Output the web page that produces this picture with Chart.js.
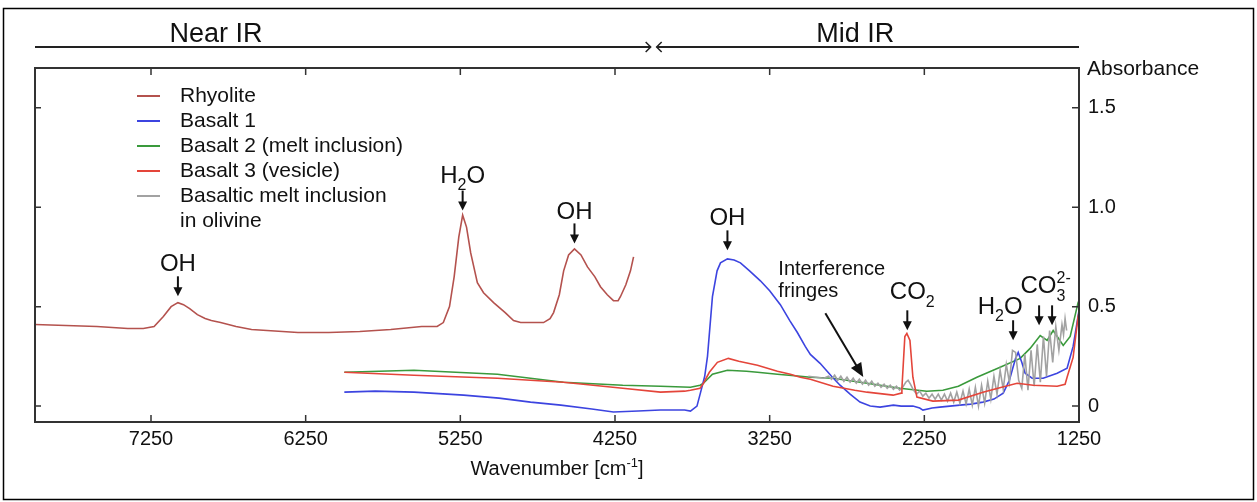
<!DOCTYPE html>
<html>
<head>
<meta charset="utf-8">
<script src="https://cdn.jsdelivr.net/npm/chart.js@4"></script>
<style>
  body { margin: 0; background: #fff; }
  #wrap { width: 1257px; height: 502px; }
</style>
</head>
<body>
<div id="wrap"><canvas id="myChart" width="1257" height="502"></canvas></div>
<script>
// values: wavenumber [cm-1] / absorbance

const rhyoliteWn  = [8000, 7800, 7600, 7400, 7300, 7230, 7170, 7120, 7076, 7040, 7000, 6950, 6900, 6860, 6800, 6700, 6600, 6500, 6300, 6100, 5900, 5700, 5500, 5400, 5360, 5320, 5290, 5260, 5235, 5210, 5183, 5140, 5100, 5035, 4960, 4906, 4860, 4780, 4712, 4670, 4647, 4610, 4582, 4550, 4512, 4470, 4428, 4380, 4344, 4300, 4260, 4230, 4215, 4180, 4150, 4130];
const rhyoliteAbs = [0.41, 0.405, 0.40, 0.39, 0.39, 0.40, 0.45, 0.50, 0.52, 0.51, 0.49, 0.46, 0.44, 0.43, 0.42, 0.40, 0.385, 0.38, 0.37, 0.37, 0.375, 0.385, 0.40, 0.40, 0.42, 0.50, 0.65, 0.85, 0.96, 0.90, 0.77, 0.62, 0.57, 0.52, 0.47, 0.43, 0.42, 0.42, 0.42, 0.44, 0.47, 0.56, 0.68, 0.76, 0.79, 0.76, 0.70, 0.65, 0.60, 0.56, 0.53, 0.53, 0.55, 0.61, 0.68, 0.75];

const basalt1Wn  = [6000, 5800, 5550, 5229, 5000, 4796, 4600, 4400, 4260, 4100, 3956, 3800, 3762, 3720, 3698, 3670, 3652, 3620, 3590, 3568, 3523, 3480, 3439, 3380, 3310, 3250, 3181, 3120, 3071, 3020, 2987, 2924, 2850, 2795, 2730, 2666, 2600, 2536, 2450, 2400, 2324, 2280, 2259, 2200, 2150, 2020, 1950, 1871, 1800, 1740, 1700, 1682, 1660, 1643, 1620, 1598, 1553, 1482, 1391, 1327, 1288, 1250];
const basalt1Abs = [0.07, 0.075, 0.07, 0.055, 0.04, 0.02, 0.005, -0.015, -0.03, -0.025, -0.02, -0.02, -0.025, 0.0, 0.065, 0.15, 0.25, 0.55, 0.68, 0.72, 0.74, 0.735, 0.72, 0.68, 0.63, 0.58, 0.51, 0.43, 0.37, 0.30, 0.26, 0.215, 0.15, 0.105, 0.06, 0.02, 0.0, -0.005, 0.005, 0.0, 0.0, -0.01, -0.02, -0.01, -0.005, 0.005, 0.01, 0.02, 0.035, 0.065, 0.13, 0.18, 0.24, 0.27, 0.22, 0.165, 0.14, 0.14, 0.165, 0.19, 0.30, 0.48];

const basalt2Wn  = [6000, 5550, 5010, 4583, 4200, 3956, 3762, 3700, 3678, 3620, 3523, 3400, 3329, 3200, 3052, 2987, 2840, 2620, 2408, 2234, 2130, 2030, 1910, 1760, 1630, 1566, 1501, 1456, 1417, 1352, 1307, 1256, 1250];
const basalt2Abs = [0.17, 0.18, 0.16, 0.12, 0.105, 0.10, 0.095, 0.105, 0.115, 0.16, 0.18, 0.175, 0.17, 0.16, 0.15, 0.145, 0.14, 0.115, 0.09, 0.075, 0.08, 0.10, 0.145, 0.195, 0.24, 0.29, 0.355, 0.33, 0.38, 0.305, 0.35, 0.52, 0.53];

const basalt3Wn  = [6000, 5550, 5010, 4583, 4200, 3956, 3800, 3762, 3700, 3678, 3640, 3588, 3517, 3450, 3329, 3200, 3116, 3052, 2987, 2840, 2700, 2620, 2452, 2400, 2395, 2376, 2363, 2343, 2324, 2298, 2195, 2030, 1871, 1750, 1650, 1546, 1391, 1340, 1327, 1288, 1256, 1250];
const basalt3Abs = [0.17, 0.155, 0.14, 0.12, 0.09, 0.07, 0.075, 0.08, 0.09, 0.115, 0.17, 0.22, 0.24, 0.225, 0.205, 0.175, 0.16, 0.145, 0.135, 0.10, 0.08, 0.07, 0.055, 0.065, 0.09, 0.35, 0.365, 0.33, 0.145, 0.045, 0.025, 0.03, 0.07, 0.095, 0.115, 0.105, 0.10, 0.11, 0.145, 0.245, 0.45, 0.47];

const olivineWn  = [3000, 2950, 2900, 2870, 2850, 2830, 2810, 2790, 2770, 2750, 2730, 2710, 2690, 2670, 2650, 2630, 2610, 2590, 2570, 2550, 2530, 2510, 2490, 2470, 2450, 2430, 2410, 2390, 2370, 2355, 2340, 2320, 2300, 2280, 2260, 2240, 2220, 2200, 2180, 2160, 2140, 2120, 2100, 2080, 2060, 2040, 2020, 2000, 1980, 1960, 1940, 1920, 1900, 1880, 1860, 1840, 1820, 1800, 1780, 1760, 1740, 1720, 1700, 1680, 1660, 1640, 1620, 1600, 1580, 1560, 1540, 1520, 1500, 1480, 1460, 1440, 1420, 1400, 1380, 1360, 1350, 1340, 1330];
const olivineAbs = [0.15, 0.145, 0.14, 0.15, 0.135, 0.155, 0.13, 0.15, 0.125, 0.145, 0.12, 0.14, 0.115, 0.135, 0.11, 0.13, 0.105, 0.125, 0.10, 0.115, 0.095, 0.11, 0.09, 0.105, 0.085, 0.10, 0.08, 0.095, 0.12, 0.13, 0.11, 0.08, 0.06, 0.075, 0.05, 0.065, 0.04, 0.06, 0.035, 0.06, 0.03, 0.06, 0.025, 0.065, 0.02, 0.07, 0.015, 0.075, 0.01, 0.085, 0.005, 0.095, 0.0, 0.105, 0.015, 0.125, 0.035, 0.15, 0.06, 0.18, 0.085, 0.21, 0.12, 0.28, 0.27, 0.13, 0.09, 0.26, 0.08, 0.28, 0.10, 0.31, 0.12, 0.35, 0.15, 0.38, 0.22, 0.40, 0.28, 0.41, 0.36, 0.44, 0.38];

const seriesLabels = ['Rhyolite', 'Basalt 1', 'Basalt 2 (melt inclusion)', 'Basalt 3 (vesicle)', 'Basaltic melt inclusion\nin olivine'];

const xTicks = [7250, 6250, 5250, 4250, 3250, 2250, 1250];
const yTicks = [0, 0.5, 1.0, 1.5];

// near / mid IR boundary and header label centres, in cm-1
const irBoundary = 4000;
const irRegions = [{name: 'Near IR', at: 6830}, {name: 'Mid IR', at: 2696}];

// peak markers: arrow wavenumbers, absorbance of the arrow tip
const peakLabels = [
  {name: 'OH',  arrows: [7076], tip: 0.552, dx: 0,   gap: 5},
  {name: 'H2O', arrows: [5235], tip: 0.983, dx: 0,   gap: 8},
  {name: 'OH',  arrows: [4512], tip: 0.818, dx: 0,   gap: 4},
  {name: 'OH',  arrows: [3523], tip: 0.783, dx: 0,   gap: 5},
  {name: 'CO2', arrows: [2360], tip: 0.381, dx: 5,   gap: 11},
  {name: 'H2O', arrows: [1676], tip: 0.331, dx: -13, gap: 6},
  {name: 'CO3', arrows: [1508, 1424], tip: 0.406, dx: 0, gap: 12},
];

const FONT = "'Liberation Sans', Arial, sans-serif";
const INK = '#111';

const peakText = {
  OH:  [{t: 'OH'}],
  H2O: [{t: 'H'}, {t: '2', sub: true}, {t: 'O'}],
  CO2: [{t: 'CO'}, {t: '2', sub: true}],
  CO3: [{t: 'CO'}, {t: '3', sub: true, over: '2-'}],
};

function pairs(wn, abs) {
  var out = [];
  for (let i = 0; i < wn.length; i++) out.push({x: wn[i], y: abs[i]});
  return out;
}

function partFont(p, size) {
  var s = (p.sub || p.sup) ? Math.round(size * 0.66) : size;
  return s + 'px ' + FONT;
}

function drawParts(ctx, parts, cx, baseline, size, align) {
  var widths = parts.map(function (p) {
    ctx.font = partFont(p, size);
    var w = ctx.measureText(p.t).width;
    if (p.over) w = Math.max(w, ctx.measureText(p.over).width);
    return w;
  });
  var total = widths.reduce((a, b) => a + b, 0);
  var x = align === 'left' ? cx : cx - total / 2;
  ctx.textAlign = 'left';
  ctx.textBaseline = 'alphabetic';
  parts.forEach(function (p, i) {
    ctx.font = partFont(p, size);
    var y = baseline;
    if (p.sub) y = baseline + size * 0.3;
    if (p.sup) y = baseline - size * 0.42;
    ctx.fillText(p.t, x, y);
    if (p.over) ctx.fillText(p.over, x, baseline - size * 0.45);
    x += widths[i];
  });
}

function downArrow(ctx, x, tipY) {
  ctx.beginPath();
  ctx.moveTo(x, tipY - 20);
  ctx.lineTo(x, tipY - 6);
  ctx.lineWidth = 2;
  ctx.stroke();
  ctx.beginPath();
  ctx.moveTo(x - 4.5, tipY - 9);
  ctx.lineTo(x + 4.5, tipY - 9);
  ctx.lineTo(x, tipY);
  ctx.closePath();
  ctx.fill();
}

const decorations = {
  id: 'decorations',
  beforeDraw(chart) {
    const ctx = chart.ctx;
    ctx.save();
    ctx.fillStyle = '#fff';
    ctx.fillRect(0, 0, chart.width, chart.height);
    ctx.restore();
  },
  afterDraw(chart) {
    const ctx = chart.ctx;
    const a = chart.chartArea;
    const xs = chart.scales.x, ys = chart.scales.y;
    ctx.save();

    // plot frame
    ctx.strokeStyle = '#333';
    ctx.lineWidth = 2;
    ctx.strokeRect(a.left, a.top, a.right - a.left, a.bottom - a.top);

    // inward ticks
    ctx.lineWidth = 1.5;
    ctx.beginPath();
    for (const v of xTicks) {
      const px = xs.getPixelForValue(v);
      ctx.moveTo(px, a.bottom); ctx.lineTo(px, a.bottom - 7);
      ctx.moveTo(px, a.top); ctx.lineTo(px, a.top + 7);
    }
    for (const v of yTicks) {
      const py = ys.getPixelForValue(v);
      ctx.moveTo(a.right, py); ctx.lineTo(a.right - 7, py);
      ctx.moveTo(a.left, py); ctx.lineTo(a.left + 6, py);
    }
    ctx.stroke();

    // Near IR / Mid IR header
    const hy = 47;
    const bx = xs.getPixelForValue(irBoundary);
    ctx.strokeStyle = '#222';
    ctx.lineWidth = 2;
    ctx.beginPath();
    ctx.moveTo(a.left, hy); ctx.lineTo(bx - 3, hy);
    ctx.moveTo(bx + 3, hy); ctx.lineTo(a.right, hy);
    ctx.stroke();
    ctx.lineWidth = 1.5;
    ctx.beginPath();
    ctx.moveTo(bx - 8, hy - 5); ctx.lineTo(bx - 3, hy); ctx.lineTo(bx - 8, hy + 5);
    ctx.moveTo(bx + 8, hy - 5); ctx.lineTo(bx + 3, hy); ctx.lineTo(bx + 8, hy + 5);
    ctx.stroke();
    ctx.fillStyle = INK;
    ctx.font = '27px ' + FONT;
    ctx.textAlign = 'center';
    ctx.textBaseline = 'alphabetic';
    for (const r of irRegions) ctx.fillText(r.name, xs.getPixelForValue(r.at), 42);

    // axis titles
    ctx.font = '21px ' + FONT;
    ctx.textAlign = 'left';
    ctx.textBaseline = 'middle';
    ctx.fillText('Absorbance', a.right + 8, a.top + 1);
    drawParts(ctx, [{t: 'Wavenumber [cm'}, {t: '-1', sup: true}, {t: ']'}],
      (a.left + a.right) / 2, 475, 20);

    // legend
    const ds = chart.data.datasets;
    let rowY = 96;
    ctx.font = '21px ' + FONT;
    ctx.textBaseline = 'middle';
    for (const d of ds) {
      ctx.strokeStyle = d.borderColor;
      ctx.lineWidth = 2;
      ctx.beginPath();
      ctx.moveTo(137, rowY); ctx.lineTo(160, rowY);
      ctx.stroke();
      ctx.fillStyle = INK;
      ctx.textAlign = 'left';
      for (const txt of d.label.split('\n')) {
        ctx.fillText(txt, 180, rowY);
        rowY += 25;
      }
    }

    // peak markers
    ctx.fillStyle = INK;
    ctx.strokeStyle = INK;
    for (const p of peakLabels) {
      const tipY = ys.getPixelForValue(p.tip);
      let sx = 0;
      for (const w of p.arrows) {
        const px = xs.getPixelForValue(w);
        downArrow(ctx, px, tipY);
        sx += px;
      }
      sx /= p.arrows.length;
      drawParts(ctx, peakText[p.name], sx + p.dx, tipY - 20 - p.gap, 24);
    }

    // interference fringes note
    ctx.font = '20px ' + FONT;
    ctx.textAlign = 'left';
    ctx.textBaseline = 'alphabetic';
    const tx = xs.getPixelForValue(3194);
    ctx.fillText('Interference', tx, ys.getPixelForValue(0.657));
    ctx.fillText('fringes', tx, ys.getPixelForValue(0.547));
    const x0 = xs.getPixelForValue(2890), y0 = ys.getPixelForValue(0.467);
    const x1 = xs.getPixelForValue(2645), y1 = ys.getPixelForValue(0.146);
    const ang = Math.atan2(y1 - y0, x1 - x0);
    ctx.lineWidth = 2;
    ctx.beginPath();
    ctx.moveTo(x0, y0);
    ctx.lineTo(x1 - 10 * Math.cos(ang), y1 - 10 * Math.sin(ang));
    ctx.stroke();
    ctx.beginPath();
    ctx.moveTo(x1, y1);
    ctx.lineTo(x1 - 14 * Math.cos(ang) + 6 * Math.sin(ang), y1 - 14 * Math.sin(ang) - 6 * Math.cos(ang));
    ctx.lineTo(x1 - 14 * Math.cos(ang) - 6 * Math.sin(ang), y1 - 14 * Math.sin(ang) + 6 * Math.cos(ang));
    ctx.closePath();
    ctx.fill();

    // outer figure border
    ctx.strokeStyle = '#000';
    ctx.lineWidth = 1.5;
    ctx.strokeRect(3.5, 8.5, 1250, 491);
    ctx.restore();
  }
};

function main() {
  const chartDiv = document.getElementById('myChart');
  const line = (label, color, wn, abs, order) => ({
    label: label,
    data: pairs(wn, abs),
    borderColor: color,
    backgroundColor: color,
    borderWidth: 1.6,
    pointRadius: 0,
    tension: 0,
    order: order
  });

  new Chart(chartDiv, {
    type: 'line',
    data: {
      datasets: [
        line(seriesLabels[0], '#b4524e', rhyoliteWn, rhyoliteAbs, 0),
        line(seriesLabels[1], '#3c44e0', basalt1Wn, basalt1Abs, 3),
        line(seriesLabels[2], '#3a9a3c', basalt2Wn, basalt2Abs, 4),
        line(seriesLabels[3], '#e4453a', basalt3Wn, basalt3Abs, 1),
        line(seriesLabels[4], '#a2a2a2', olivineWn, olivineAbs, 2),
      ]
    },
    options: {
      responsive: false,
      animation: false,
      devicePixelRatio: 1,
      layout: {padding: {left: 35, top: 68, right: 0, bottom: 0}},
      plugins: {
        legend: {display: false},
        tooltip: {enabled: false}
      },
      scales: {
        x: {
          type: 'linear',
          reverse: true,
          min: 1250,
          max: 8000,
          grid: {display: false, drawTicks: false},
          border: {display: false},
          ticks: {
            autoSkip: false,
            maxRotation: 0,
            padding: 5,
            color: INK,
            font: {size: 20, family: FONT},
            callback: (v) => String(v)
          },
          afterBuildTicks: (scale) => { scale.ticks = xTicks.map(v => ({value: v})); },
          afterFit: (scale) => { scale.height = 80; }
        },
        y: {
          position: 'right',
          min: -0.08,
          max: 1.70,
          grid: {display: false, drawTicks: false},
          border: {display: false},
          ticks: {
            padding: 9,
            color: INK,
            font: {size: 20, family: FONT},
            callback: (v) => v === 0 ? '0' : v.toFixed(1)
          },
          afterBuildTicks: (scale) => { scale.ticks = yTicks.map(v => ({value: v})); },
          afterFit: (scale) => { scale.width = 178; }
        }
      }
    },
    plugins: [decorations]
  });
}

document.addEventListener("DOMContentLoaded", function () {
  main();
});
</script>
</body>
</html>
